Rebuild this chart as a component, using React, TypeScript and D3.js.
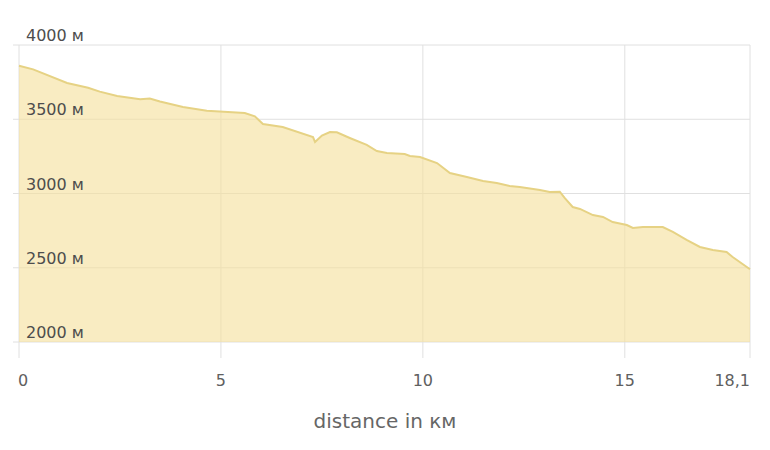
import * as d3 from "d3";
import { useEffect, useRef } from "react";

// elevation profile: distance (km) and altitude (m)
const distanceKm = [
  0, 0.35, 1.19, 1.71, 2.0, 2.43, 3.0, 3.24, 3.49, 4.06, 4.65, 5.59, 5.84,
  6.04, 6.53, 7.28, 7.33, 7.5, 7.7, 7.87, 8.19, 8.61, 8.86, 9.11, 9.55, 9.68,
  9.93, 10.35, 10.67, 11.09, 11.49, 11.83, 12.15, 12.4, 12.9, 13.14, 13.39,
  13.51, 13.71, 13.89, 14.21, 14.46, 14.7, 15.05, 15.2, 15.45, 15.94, 16.19,
  16.53, 16.86, 17.18, 17.52, 17.67, 18.1,
];
const altitudeM = [
  3860, 3836, 3744, 3712, 3686, 3657, 3635, 3640, 3620, 3582, 3558, 3542, 3520,
  3468, 3448, 3380, 3347, 3390, 3414, 3412, 3374, 3327, 3286, 3273, 3266, 3253,
  3246, 3205, 3138, 3111, 3084, 3071, 3050, 3044, 3024, 3010, 3012, 2970, 2909,
  2896, 2855, 2842, 2808, 2788, 2768, 2774, 2774, 2741, 2687, 2640, 2620, 2606,
  2572, 2490,
];
const yTicks = [2000, 2500, 3000, 3500, 4000];
const xTicks = [0, 5, 10, 15, 18.1];
const xTickLabels = ["0", "5", "10", "15", "18,1"];

const W = 770;
const H = 450;

export default function App() {
  const ref = useRef<SVGSVGElement | null>(null);

  useEffect(() => {
    const svg = d3.select(ref.current);
    svg.selectAll("*").remove();

    const left = 19;
    const right = 750;
    const top = 45;
    const bottom = 342;

    const x = d3.scaleLinear([0, 18.1], [left, right]);
    const y = d3.scaleLinear([2000, 4000], [bottom, top]);

    const pts: [number, number][] = distanceKm.map((d, i) => [d, altitudeM[i]]);

    // grid
    const grid = svg.append("g");
    grid
      .selectAll("line.h")
      .data(yTicks)
      .join("line")
      .attr("x1", left - 6)
      .attr("x2", right)
      .attr("y1", (d) => y(d))
      .attr("y2", (d) => y(d))
      .attr("stroke", "#e0e0e0")
      .attr("stroke-width", 1);
    grid
      .selectAll("line.v")
      .data(xTicks)
      .join("line")
      .attr("x1", (d) => x(d))
      .attr("x2", (d) => x(d))
      .attr("y1", top)
      .attr("y2", bottom + 16)
      .attr("stroke", "#e0e0e0")
      .attr("stroke-width", 1);

    const area = d3
      .area<[number, number]>()
      .x((d) => x(d[0]))
      .y0(y(2000))
      .y1((d) => y(d[1]));
    const line = d3
      .line<[number, number]>()
      .x((d) => x(d[0]))
      .y((d) => y(d[1]));

    svg
      .append("path")
      .datum(pts)
      .attr("d", area)
      .attr("fill", "rgb(246,224,156)")
      .attr("fill-opacity", 0.62);
    svg
      .append("path")
      .datum(pts)
      .attr("d", line)
      .attr("fill", "none")
      .attr("stroke", "#e6d284")
      .attr("stroke-width", 2);

    // y labels inside the plot
    svg
      .append("g")
      .selectAll("text")
      .data(yTicks)
      .join("text")
      .attr("x", left + 7)
      .attr("y", (d) => y(d) - 4)
      .attr("font-family", "DejaVu Sans, sans-serif")
      .attr("font-size", 16)
      .attr("fill", "#4d4d4d")
      .text((d) => `${d} м`);

    // x tick labels
    svg
      .append("g")
      .selectAll("text")
      .data(xTicks)
      .join("text")
      .attr("x", (d, i) => (i === 0 ? x(d) - 1 : x(d)))
      .attr("y", 386)
      .attr("text-anchor", (d, i) =>
        i === 0 ? "start" : i === xTicks.length - 1 ? "end" : "middle"
      )
      .attr("font-family", "DejaVu Sans, sans-serif")
      .attr("font-size", 16)
      .attr("fill", "#606060")
      .text((d, i) => xTickLabels[i]);

    svg
      .append("text")
      .attr("x", 385)
      .attr("y", 428)
      .attr("text-anchor", "middle")
      .attr("font-family", "DejaVu Sans, sans-serif")
      .attr("font-size", 20)
      .attr("fill", "#666")
      .text("distance in км");
  }, []);

  return (
    <svg
      ref={ref}
      width={W}
      height={H}
      style={{ position: "absolute", left: 0, top: 0, background: "#fff" }}
    />
  );
}
